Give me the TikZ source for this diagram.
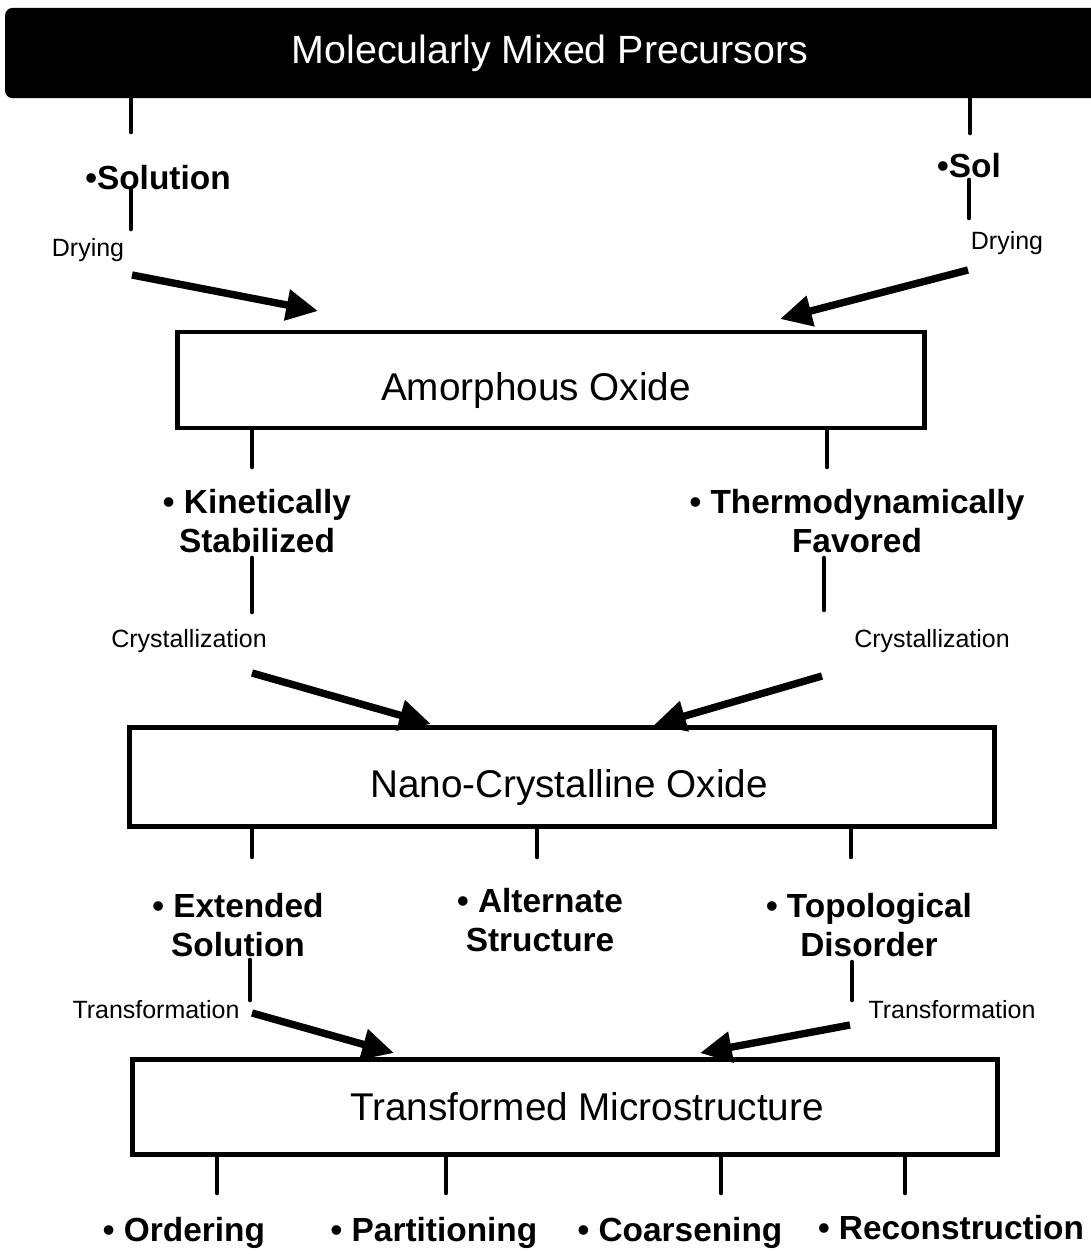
\documentclass[tikz,border=0pt]{standalone}
\usepackage{fontspec}
\setmainfont{Liberation Sans}
\usetikzlibrary{arrows.meta}

\tikzset{
  stage/.style={draw, line width=1.4pt, inner sep=0pt, font=\fontsize{11}{13}\selectfont},
  stub/.style={line width=1.3pt, line cap=round},
  flow/.style={line width=2.1pt, -{Triangle[length=9pt,width=8.5pt]}},
  item/.style={font=\fontsize{9.5}{11}\selectfont\bfseries, align=center, inner sep=0pt},
  note/.style={font=\fontsize{7.1}{8}\selectfont, inner sep=0pt}
}

\begin{document}
\begin{tikzpicture}[x=0.01cm,y=-0.01cm]
      \useasboundingbox (0,0) rectangle (1091,1254);
      % boxes
      \node[fill=black, text=white, rounded corners=2pt, minimum width=10.95cm, minimum height=0.9cm,
            inner sep=0pt, font=\fontsize{11.2}{13}\selectfont] (mmp) at (553,53) {Molecularly Mixed Precursors\hspace*{0.06cm}};
      \node[stage, minimum width=7.47cm, minimum height=0.96cm, text height=11.5pt, text depth=0pt] (amor) at (551,380) {Amorphous Oxide\hspace*{0.3cm}};
      \node[stage, minimum width=8.64cm, minimum height=0.99cm, text height=11.5pt, text depth=0pt] (nano) at (562,777) {\hspace*{0.14cm}Nano-Crystalline Oxide};
      \node[stage, minimum width=8.65cm, minimum height=0.95cm] (trans) at (565,1107) {\hspace*{0.44cm}Transformed Microstructure};
      % labels
      \node[item] (soln) at (158,178) {•Solution};
      \node[item] (sol) at (969,166) {•Sol};
      \node[note] (dry1) at (88,250) {Drying};
      \node[note] (dry2) at (1007,243) {Drying};
      \node[item] (kin) at (257,521) {• Kinetically\\Stabilized};
      \node[item] (thermo) at (857,521) {• Thermodynamically\\Favored};
      \node[note] (cry1) at (189,641) {Crystallization};
      \node[note] (cry2) at (932,641) {Crystallization};
      \node[item] (ext) at (238,925) {• Extended\\Solution};
      \node[item] (alt) at (540,920) {• Alternate\\Structure};
      \node[item] (topo) at (869,925) {• Topological\\Disorder};
      \node[note] (tr1) at (156,1010) {Transformation};
      \node[note] (tr2) at (952,1010) {Transformation};
      \node[item] (ord) at (184,1233) {• Ordering};
      \node[item] (part) at (434,1233) {• Partitioning};
      \node[item] (coar) at (680,1233) {• Coarsening};
      \node[item] (recon) at (951,1228) {• Reconstruction};
      % stub ends
      \coordinate (m1) at (131,132);
      \coordinate (m2) at (970,133);
      \coordinate (s1) at (131,190);
      \coordinate (s1e) at (131,229);
      \coordinate (s2) at (969,180);
      \coordinate (s2e) at (969,218);
      \coordinate (a1) at (252,467);
      \coordinate (a2) at (827,467);
      \coordinate (k1) at (252,558);
      \coordinate (k1e) at (252,612);
      \coordinate (k2) at (824,558);
      \coordinate (k2e) at (824,610);
      \coordinate (n1) at (252,857);
      \coordinate (n2) at (537,857);
      \coordinate (n3) at (851,857);
      \coordinate (e1) at (250,960);
      \coordinate (e1e) at (250,1000);
      \coordinate (e2) at (852,962);
      \coordinate (e2e) at (852,1000);
      \coordinate (t1) at (217,1193);
      \coordinate (t2) at (446,1193);
      \coordinate (t3) at (721,1193);
      \coordinate (t4) at (905,1193);
      \draw[stub] (m1 |- mmp.south) -- (m1);
      \draw[stub] (m2 |- mmp.south) -- (m2);
      \draw[stub] (s1) -- (s1e);
      \draw[stub] (s2) -- (s2e);
      \draw[stub] (a1 |- amor.south) -- (a1);
      \draw[stub] (a2 |- amor.south) -- (a2);
      \draw[stub] (k1) -- (k1e);
      \draw[stub] (k2) -- (k2e);
      \foreach \c in {n1,n2,n3} \draw[stub] (\c |- nano.south) -- (\c);
      \draw[stub] (e1) -- (e1e);
      \draw[stub] (e2) -- (e2e);
      \foreach \c in {t1,t2,t3,t4} \draw[stub] (\c |- trans.south) -- (\c);
      % arrows
      \coordinate (d1) at (132,275);
      \coordinate (d1t) at (318,311);
      \coordinate (d2) at (968,270);
      \coordinate (d2t) at (780,319);
      \coordinate (c1) at (252,673);
      \coordinate (c1t) at (431,724);
      \coordinate (c2) at (822,676);
      \coordinate (c2t) at (654,725);
      \coordinate (f1) at (252,1013);
      \coordinate (f1t) at (394,1053);
      \coordinate (f2) at (850,1025);
      \coordinate (f2t) at (700,1053);
      \draw[flow] (d1) -- (d1t);
      \draw[flow] (d2) -- (d2t);
      \draw[flow] (c1) -- (c1t);
      \draw[flow] (c2) -- (c2t);
      \draw[flow] (f1) -- (f1t);
      \draw[flow] (f2) -- (f2t);
\end{tikzpicture}
\end{document}
